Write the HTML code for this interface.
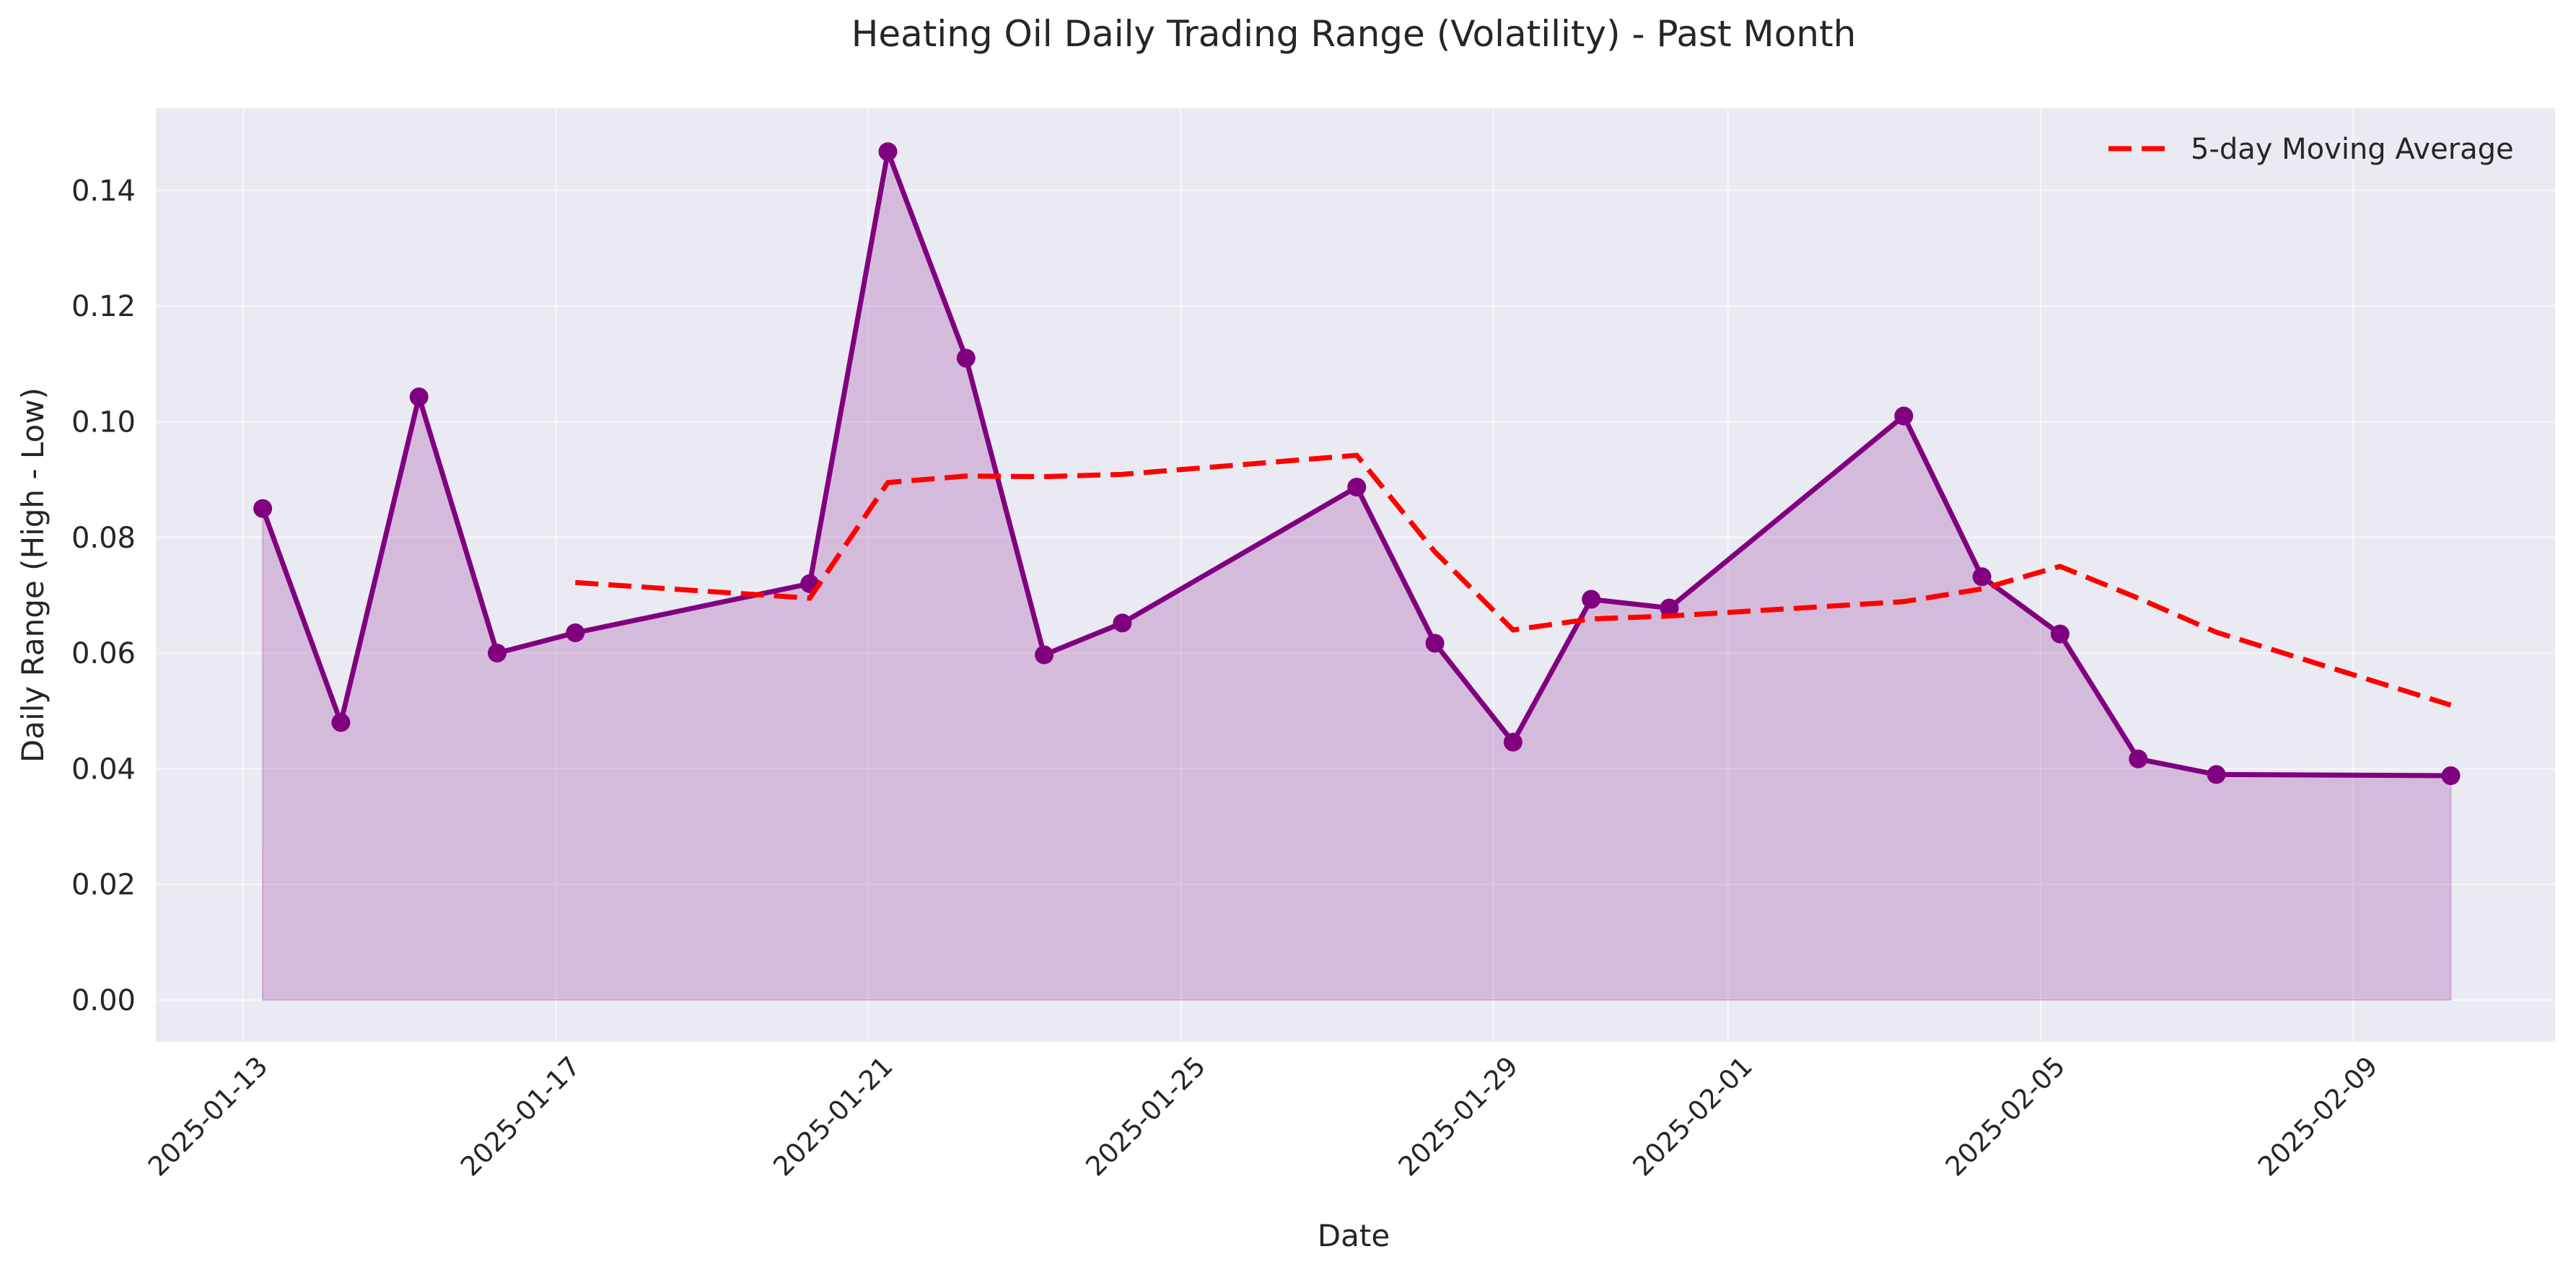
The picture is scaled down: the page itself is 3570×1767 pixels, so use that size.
<!DOCTYPE html>
<html><head><meta charset="utf-8"><style>
html,body{margin:0;padding:0;background:#fff}
svg{display:block}
text{font-family:"DejaVu Sans","Liberation Sans",sans-serif;fill:#262626}
</style></head><body>
<svg id="s" width="3570" height="1767" viewBox="0 0 3570 1767" xmlns="http://www.w3.org/2000/svg">
<rect x="216" y="150" width="3325" height="1294" fill="#eaeaf2"/>
<g id="grid"></g>
<g id="data"></g>
<text x="1876" y="64" font-size="50" text-anchor="middle">Heating Oil Daily Trading Range (Volatility) - Past Month</text>
<text x="1876" y="1727" font-size="42" text-anchor="middle">Date</text>
<text transform="translate(60,797) rotate(-90)" font-size="42" text-anchor="middle">Daily Range (High - Low)</text>
<g>
<line x1="2922" y1="206" x2="3004" y2="206" stroke="#ff0000" stroke-width="7" stroke-dasharray="32,14"/>
<text x="3036" y="220" font-size="40">5-day Moving Average</text>
</g>
</svg>
<script>
var NS="http://www.w3.org/2000/svg";
function el(t,a,p,txt){var e=document.createElementNS(NS,t);for(var k in a)e.setAttribute(k,a[k]);if(txt)e.textContent=txt;p.appendChild(e);return e;}
var L=216,R=3541,T=150,B=1444;
function X(d){return 337+108.3*d;}
function Y(v){return 1386-v*8015;}
var g=document.getElementById('grid'),dg=document.getElementById('data'),s=document.getElementById('s');
for(var i=0;i<=7;i++){var v=i*0.02,y=Y(v);
el('line',{x1:L,x2:R,y1:y,y2:y,stroke:'#fff','stroke-opacity':0.5,'stroke-width':2.5},g);
el('text',{x:188,y:y+14,'font-size':40,'text-anchor':'end'},s,v.toFixed(2));}
var ticks=[[0,'2025-01-13'],[4,'2025-01-17'],[8,'2025-01-21'],[12,'2025-01-25'],[16,'2025-01-29'],[19,'2025-02-01'],[23,'2025-02-05'],[27,'2025-02-09']];
ticks.forEach(function(t){var x=X(t[0]);
el('line',{x1:x,x2:x,y1:T,y2:B,stroke:'#fff','stroke-opacity':0.5,'stroke-width':2.5},g);
el('text',{x:0,y:0,'font-size':37,'text-anchor':'end',transform:'translate('+(x+36)+','+(B+36)+') rotate(-45)'},s,t[1]);});
var o=0.25;
var pts=[[0,.085],[1,.048],[2,.1043],[3,.060],[4,.0635],[7,.072],[8,.1467],[9,.111],[10,.0597],[11,.0652],[14,.0887],[15,.0617],[16,.0446],[17,.0693],[18,.0678],[21,.101],[22,.0732],[23,.0633],[24,.0417],[25,.039],[28,.0388]];
var ma=[[4,.0722],[7,.0695],[8,.0895],[9,.0906],[10,.0905],[11,.0909],[14,.0942],[15,.0775],[16,.064],[17,.0659],[18,.0664],[21,.0689],[22,.0711],[23,.075],[24,.0695],[25,.0636],[28,.051]];
var p=pts.map(function(q){return X(q[0]+o).toFixed(1)+','+Y(q[1]).toFixed(1);});
var fill='M'+X(o)+','+Y(0)+' L'+p.join(' L')+' L'+X(28+o)+','+Y(0)+' Z';
el('path',{d:fill,fill:'#800080','fill-opacity':0.2,stroke:'#800080','stroke-opacity':0.2,'stroke-width':2},dg);
el('polyline',{points:p.join(' '),fill:'none',stroke:'#800080','stroke-width':7,'stroke-linejoin':'round'},dg);
pts.forEach(function(q){el('circle',{cx:X(q[0]+o),cy:Y(q[1]),r:13,fill:'#800080'},dg);});
el('polyline',{points:ma.map(function(q){return X(q[0]+o).toFixed(1)+','+Y(q[1]).toFixed(1);}).join(' '),fill:'none',stroke:'#ff0000','stroke-width':7,'stroke-dasharray':'32,14'},dg);
</script>
</body></html>
